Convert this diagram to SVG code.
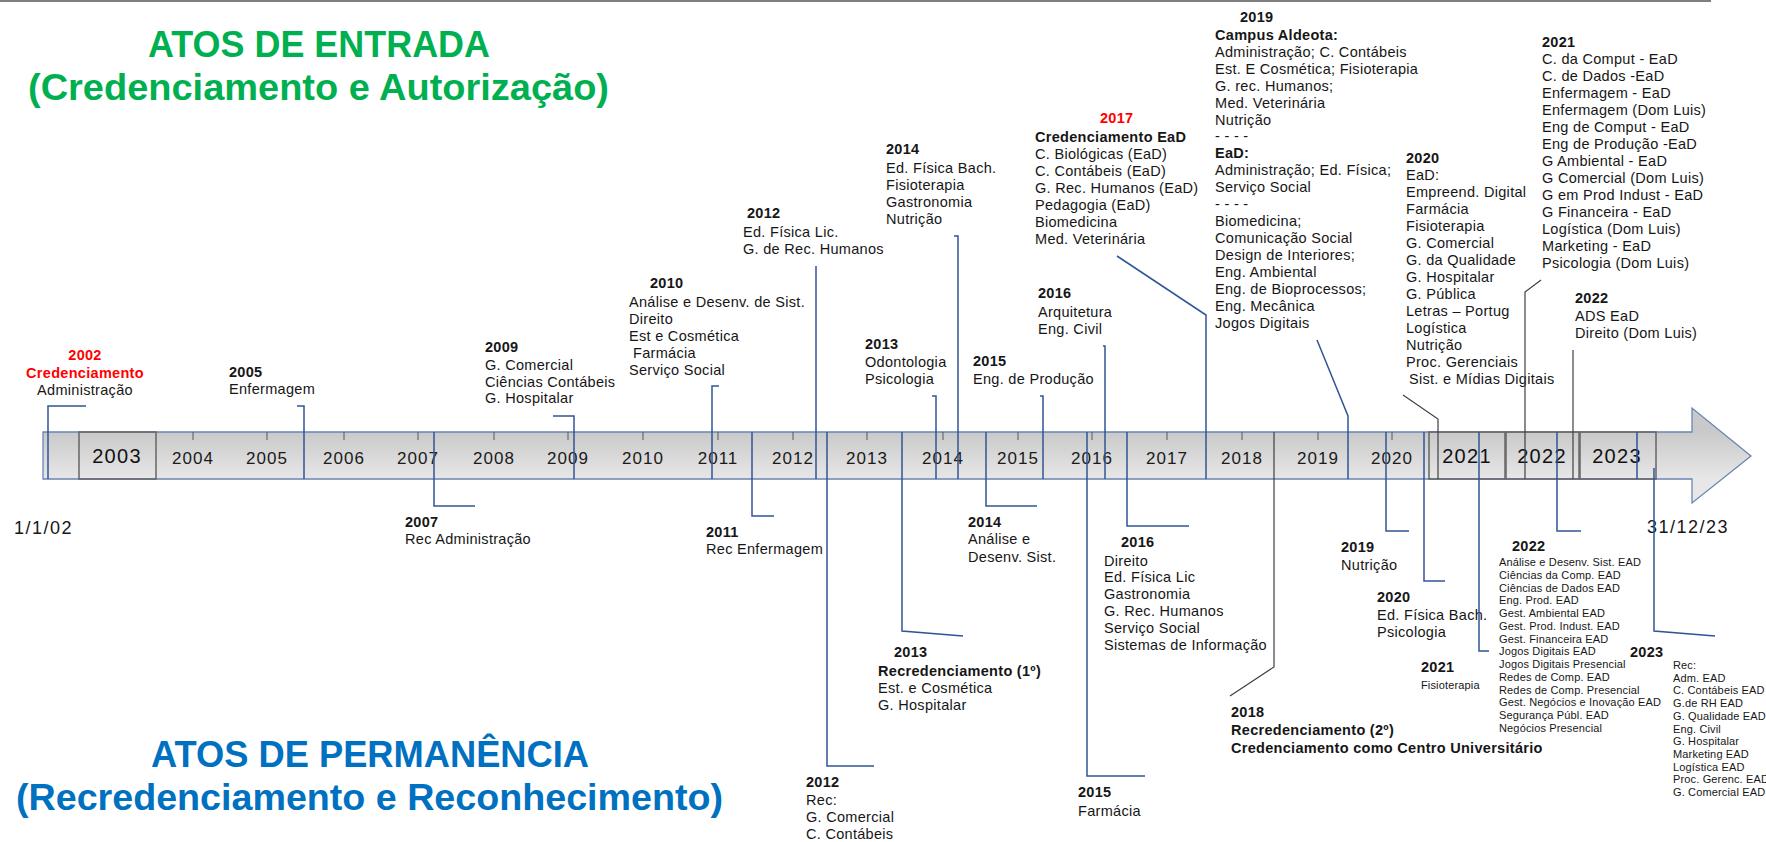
<svg xmlns="http://www.w3.org/2000/svg" width="1766" height="842" viewBox="0 0 1766 842">
<defs>
<linearGradient id="barg" gradientUnits="userSpaceOnUse" x1="0" y1="432" x2="0" y2="479">
<stop offset="0" stop-color="#C9C9C9"/>
<stop offset="1" stop-color="#E7E7E7"/>
</linearGradient>
<style>
text{font-family:"Liberation Sans",Arial,sans-serif;font-size:14.5px;letter-spacing:0.3px;fill:#161616}
.b{font-weight:bold}
.r{fill:#FF0000}
.m{text-anchor:middle}
.s{font-size:11px;letter-spacing:0.15px}
.yr{font-size:17px;letter-spacing:1px;text-anchor:middle;fill:#1a1a1a}
.yb{font-size:20px;letter-spacing:1.3px;text-anchor:middle;fill:#111}
.dt{font-size:18px;letter-spacing:1.5px}
.tg{font-weight:bold;fill:#00B050;font-size:37px;letter-spacing:0}
.tb{font-weight:bold;fill:#0070C0;font-size:37px;letter-spacing:0}
.c{fill:none;stroke:#2F5597;stroke-width:1.5}
.g{fill:none;stroke:#404040;stroke-width:1.2}
.tk{stroke:#595959;stroke-width:1}
.box{fill:none;stroke:#666666;stroke-width:1.5}
</style>
</defs>
<rect x="0" y="0" width="1766" height="842" fill="#FFFFFF"/>
<line x1="0" y1="1" x2="1711" y2="1" stroke="#7F7F7F" stroke-width="2"/>

<g id="titles">
<text class="tg" x="148" y="57" textLength="342" lengthAdjust="spacingAndGlyphs">ATOS DE ENTRADA</text>
<text class="tg" x="28" y="100" textLength="581" lengthAdjust="spacingAndGlyphs">(Credenciamento e Autorização)</text>
<text class="tb" x="151" y="767" textLength="438" lengthAdjust="spacingAndGlyphs">ATOS DE PERMANÊNCIA</text>
<text class="tb" x="16" y="810" textLength="707" lengthAdjust="spacingAndGlyphs">(Recredenciamento e Reconhecimento)</text>
</g>

<g id="timeline">
<polygon points="43,432 1692,432 1692,408 1751,456 1692,503 1692,479 43,479" fill="url(#barg)" stroke="#6A84B5" stroke-width="1.3"/>
<rect class="box" x="79" y="432" width="77" height="47"/>
<rect class="box" x="1429" y="432" width="76" height="47"/>
<rect class="box" x="1506" y="432" width="73" height="47"/>
<rect class="box" x="1580" y="432" width="76" height="47"/>
<g class="tk">
<line x1="193" y1="432" x2="193" y2="440"/><line x1="267" y1="432" x2="267" y2="440"/>
<line x1="344" y1="432" x2="344" y2="440"/><line x1="418" y1="432" x2="418" y2="440"/>
<line x1="494" y1="432" x2="494" y2="440"/><line x1="568" y1="432" x2="568" y2="440"/>
<line x1="643" y1="432" x2="643" y2="440"/><line x1="718" y1="432" x2="718" y2="440"/>
<line x1="793" y1="432" x2="793" y2="440"/><line x1="867" y1="432" x2="867" y2="440"/>
<line x1="943" y1="432" x2="943" y2="440"/><line x1="1018" y1="432" x2="1018" y2="440"/>
<line x1="1092" y1="432" x2="1092" y2="440"/><line x1="1167" y1="432" x2="1167" y2="440"/>
<line x1="1242" y1="432" x2="1242" y2="440"/><line x1="1318" y1="432" x2="1318" y2="440"/>
<line x1="1392" y1="432" x2="1392" y2="440"/>
</g>
<text class="yb" x="117" y="463">2003</text>
<text class="yr" x="193" y="464">2004</text>
<text class="yr" x="267" y="464">2005</text>
<text class="yr" x="344" y="464">2006</text>
<text class="yr" x="418" y="464">2007</text>
<text class="yr" x="494" y="464">2008</text>
<text class="yr" x="568" y="464">2009</text>
<text class="yr" x="643" y="464">2010</text>
<text class="yr" x="718" y="464">2011</text>
<text class="yr" x="793" y="464">2012</text>
<text class="yr" x="867" y="464">2013</text>
<text class="yr" x="943" y="464">2014</text>
<text class="yr" x="1018" y="464">2015</text>
<text class="yr" x="1092" y="464">2016</text>
<text class="yr" x="1167" y="464">2017</text>
<text class="yr" x="1242" y="464">2018</text>
<text class="yr" x="1318" y="464">2019</text>
<text class="yr" x="1392" y="464">2020</text>
<text class="yb" x="1467" y="463">2021</text>
<text class="yb" x="1542" y="463">2022</text>
<text class="yb" x="1617" y="463">2023</text>
<text class="dt" x="14" y="534">1/1/02</text>
<text class="dt" x="1647" y="533">31/12/23</text>
</g>

<g id="e2002">
<text class="b r m" x="85" y="360">2002</text>
<text class="b r m" x="85" y="378">Credenciamento</text>
<text class="m" x="85" y="395">Administração</text>
</g>
<g id="e2005">
<text class="b" x="229" y="377">2005</text>
<text x="229" y="394">Enfermagem</text>
</g>
<g id="e2009">
<text class="b" x="485" y="352">2009</text>
<text x="485" y="370">G. Comercial</text>
<text x="485" y="387">Ciências Contábeis</text>
<text x="485" y="403">G. Hospitalar</text>
</g>
<g id="e2010">
<text class="b" x="650" y="288">2010</text>
<text x="629" y="307">Análise e Desenv. de Sist.</text>
<text x="629" y="324">Direito</text>
<text x="629" y="341">Est e Cosmética</text>
<text x="633" y="358">Farmácia</text>
<text x="629" y="375">Serviço Social</text>
</g>
<g id="e2012">
<text class="b" x="747" y="218">2012</text>
<text x="743" y="237">Ed. Física Lic.</text>
<text x="743" y="254">G. de Rec. Humanos</text>
</g>
<g id="e2014">
<text class="b" x="886" y="154">2014</text>
<text x="886" y="173">Ed. Física Bach.</text>
<text x="886" y="190">Fisioterapia</text>
<text x="886" y="207">Gastronomia</text>
<text x="886" y="224">Nutrição</text>
</g>
<g id="e2013">
<text class="b" x="865" y="349">2013</text>
<text x="865" y="367">Odontologia</text>
<text x="865" y="384">Psicologia</text>
</g>
<g id="e2015">
<text class="b" x="973" y="366">2015</text>
<text x="973" y="384">Eng. de Produção</text>
</g>
<g id="e2016">
<text class="b" x="1038" y="298">2016</text>
<text x="1038" y="317">Arquitetura</text>
<text x="1038" y="334">Eng. Civil</text>
</g>
<g id="e2017">
<text class="b r" x="1100" y="123">2017</text>
<text class="b" x="1035" y="142">Credenciamento EaD</text>
<text x="1035" y="159">C. Biológicas (EaD)</text>
<text x="1035" y="176">C. Contábeis (EaD)</text>
<text x="1035" y="193">G. Rec. Humanos (EaD)</text>
<text x="1035" y="210">Pedagogia (EaD)</text>
<text x="1035" y="227">Biomedicina</text>
<text x="1035" y="244">Med. Veterinária</text>
</g>
<g id="e2019">
<text class="b" x="1240" y="22">2019</text>
<text class="b" x="1215" y="40">Campus Aldeota:</text>
<text x="1215" y="57">Administração; C. Contábeis</text>
<text x="1215" y="74">Est. E Cosmética; Fisioterapia</text>
<text x="1215" y="91">G. rec. Humanos;</text>
<text x="1215" y="108">Med. Veterinária</text>
<text x="1215" y="125">Nutrição</text>
<text x="1215" y="141">- - - -</text>
<text class="b" x="1215" y="158">EaD:</text>
<text x="1215" y="175">Administração; Ed. Física;</text>
<text x="1215" y="192">Serviço Social</text>
<text x="1215" y="209">- - - -</text>
<text x="1215" y="226">Biomedicina;</text>
<text x="1215" y="243">Comunicação Social</text>
<text x="1215" y="260">Design de Interiores;</text>
<text x="1215" y="277">Eng. Ambiental</text>
<text x="1215" y="294">Eng. de Bioprocessos;</text>
<text x="1215" y="311">Eng. Mecânica</text>
<text x="1215" y="328">Jogos Digitais</text>
</g>
<g id="e2020">
<text class="b" x="1406" y="163">2020</text>
<text x="1406" y="180">EaD:</text>
<text x="1406" y="197">Empreend. Digital</text>
<text x="1406" y="214">Farmácia</text>
<text x="1406" y="231">Fisioterapia</text>
<text x="1406" y="248">G. Comercial</text>
<text x="1406" y="265">G. da Qualidade</text>
<text x="1406" y="282">G. Hospitalar</text>
<text x="1406" y="299">G. Pública</text>
<text x="1406" y="316">Letras – Portug</text>
<text x="1406" y="333">Logística</text>
<text x="1406" y="350">Nutrição</text>
<text x="1406" y="367">Proc. Gerenciais</text>
<text x="1409" y="384">Sist. e Mídias Digitais</text>
</g>
<g id="e2021">
<text class="b" x="1542" y="47">2021</text>
<text x="1542" y="64">C. da Comput - EaD</text>
<text x="1542" y="81">C. de Dados -EaD</text>
<text x="1542" y="98">Enfermagem - EaD</text>
<text x="1542" y="115">Enfermagem (Dom Luis)</text>
<text x="1542" y="132">Eng de Comput - EaD</text>
<text x="1542" y="149">Eng de Produção -EaD</text>
<text x="1542" y="166">G Ambiental - EaD</text>
<text x="1542" y="183">G Comercial (Dom Luis)</text>
<text x="1542" y="200">G em Prod Indust - EaD</text>
<text x="1542" y="217">G Financeira - EaD</text>
<text x="1542" y="234">Logística (Dom Luis)</text>
<text x="1542" y="251">Marketing - EaD</text>
<text x="1542" y="268">Psicologia (Dom Luis)</text>
</g>
<g id="e2022">
<text class="b" x="1575" y="303">2022</text>
<text x="1575" y="321">ADS EaD</text>
<text x="1575" y="338">Direito (Dom Luis)</text>
</g>

<g id="p2007">
<text class="b" x="405" y="527">2007</text>
<text x="405" y="544">Rec Administração</text>
</g>
<g id="p2011">
<text class="b" x="706" y="537">2011</text>
<text x="706" y="554">Rec Enfermagem</text>
</g>
<g id="p2012">
<text class="b" x="806" y="787">2012</text>
<text x="806" y="805">Rec:</text>
<text x="806" y="822">G. Comercial</text>
<text x="806" y="839">C. Contábeis</text>
</g>
<g id="p2013">
<text class="b" x="894" y="657">2013</text>
<text class="b" x="878" y="676">Recredenciamento (1º)</text>
<text x="878" y="693">Est. e Cosmética</text>
<text x="878" y="710">G. Hospitalar</text>
</g>
<g id="p2014">
<text class="b" x="968" y="527">2014</text>
<text x="968" y="544">Análise e</text>
<text x="968" y="562">Desenv. Sist.</text>
</g>
<g id="p2015">
<text class="b" x="1078" y="797">2015</text>
<text x="1078" y="816">Farmácia</text>
</g>
<g id="p2016">
<text class="b" x="1121" y="547">2016</text>
<text x="1104" y="566">Direito</text>
<text x="1104" y="582">Ed. Física Lic</text>
<text x="1104" y="599">Gastronomia</text>
<text x="1104" y="616">G. Rec. Humanos</text>
<text x="1104" y="633">Serviço Social</text>
<text x="1104" y="650">Sistemas de Informação</text>
</g>
<g id="p2018">
<text class="b" x="1231" y="717">2018</text>
<text class="b" x="1231" y="735">Recredenciamento (2º)</text>
<text class="b" x="1231" y="753">Credenciamento como Centro Universitário</text>
</g>
<g id="p2019">
<text class="b" x="1341" y="552">2019</text>
<text x="1341" y="570">Nutrição</text>
</g>
<g id="p2020">
<text class="b" x="1377" y="602">2020</text>
<text x="1377" y="620">Ed. Física Bach.</text>
<text x="1377" y="637">Psicologia</text>
</g>
<g id="p2021">
<text class="b" x="1421" y="672">2021</text>
<text class="s" x="1421" y="689">Fisioterapia</text>
</g>
<g id="p2022">
<text class="b" x="1512" y="551">2022</text>
<text class="s" x="1499" y="566">Análise e Desenv. Sist. EAD</text>
<text class="s" x="1499" y="579">Ciências da Comp. EAD</text>
<text class="s" x="1499" y="592">Ciências de Dados EAD</text>
<text class="s" x="1499" y="604">Eng. Prod. EAD</text>
<text class="s" x="1499" y="617">Gest. Ambiental EAD</text>
<text class="s" x="1499" y="630">Gest. Prod. Indust. EAD</text>
<text class="s" x="1499" y="643">Gest. Financeira EAD</text>
<text class="s" x="1499" y="655">Jogos Digitais EAD</text>
<text class="s" x="1499" y="668">Jogos Digitais Presencial</text>
<text class="s" x="1499" y="681">Redes de Comp. EAD</text>
<text class="s" x="1499" y="694">Redes de Comp. Presencial</text>
<text class="s" x="1499" y="706">Gest. Negócios e Inovação EAD</text>
<text class="s" x="1499" y="719">Segurança Públ. EAD</text>
<text class="s" x="1499" y="732">Negócios Presencial</text>
</g>
<g id="p2023">
<text class="b" x="1630" y="657">2023</text>
<text class="s" x="1673" y="669">Rec:</text>
<text class="s" x="1673" y="682">Adm. EAD</text>
<text class="s" x="1673" y="694">C. Contábeis EAD</text>
<text class="s" x="1673" y="707">G.de RH EAD</text>
<text class="s" x="1673" y="720">G. Qualidade EAD</text>
<text class="s" x="1673" y="733">Eng. Civil</text>
<text class="s" x="1673" y="745">G. Hospitalar</text>
<text class="s" x="1673" y="758">Marketing EAD</text>
<text class="s" x="1673" y="771">Logística EAD</text>
<text class="s" x="1673" y="783">Proc. Gerenc. EAD</text>
<text class="s" x="1673" y="796">G. Comercial EAD</text>
</g>

<g id="connectors">
<path class="c" d="M86,406 H48 V479"/>
<path class="c" d="M297,406 H304 V479"/>
<path class="c" d="M553,416 H574 V479"/>
<path class="c" d="M719,386 H712 V479"/>
<path class="c" d="M816,266 V479"/>
<path class="c" d="M954,236 H958 V479"/>
<path class="c" d="M932,396 H936 V479"/>
<path class="c" d="M1040,396 H1043 V479"/>
<path class="c" d="M1103,346 H1105 V479"/>
<path class="c" d="M1117,256 L1206,315 V479"/>
<path class="c" d="M1317,340 L1348,416 V479"/>
<path class="g" d="M1403,395 L1438,419 V479"/>
<path class="g" d="M1541,280 L1525,292 V479"/>
<path class="g" d="M1573,350 V479"/>
<path class="c" d="M434,432 V506 H475"/>
<path class="c" d="M752,432 V516 H774"/>
<path class="c" d="M827,432 V766 H874"/>
<path class="c" d="M902,432 V631 L963,636"/>
<path class="c" d="M986,432 V506 H1037"/>
<path class="c" d="M1087,432 V776 H1145"/>
<path class="c" d="M1127,432 V526 H1189"/>
<path class="g" d="M1274,432 V667 L1230,696"/>
<path class="c" d="M1386,432 V531 H1409"/>
<path class="c" d="M1424,432 V581 H1445"/>
<path class="c" d="M1479,432 V651 H1489"/>
<path class="c" d="M1557,432 V531 H1581"/>
<path class="c" d="M1637,432 V479"/>
<path class="c" d="M1654,468 V631 L1715,636"/>
</g>
</svg>
